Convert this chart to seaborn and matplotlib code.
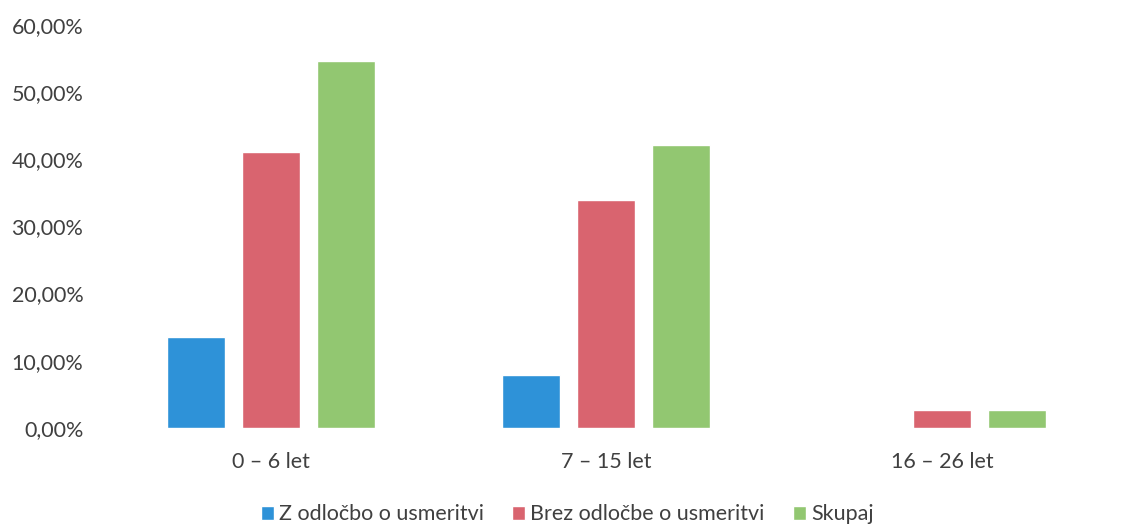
import matplotlib.pyplot as plt
import matplotlib.ticker as mticker
import pandas as pd
import seaborn as sns

# Podatki
kategorije = ['0 – 6 let', '7 – 15 let', '16 – 26 let']
serije = ['Z odločbo o usmeritvi', 'Brez odločbe o usmeritvi', 'Skupaj']
z_odlocbo = [0.136, 0.079, 0.0]
brez_odlocbe = [0.410, 0.339, 0.026]
skupaj = [0.546, 0.421, 0.026]
barve = ['#2E92D8', '#D9646F', '#92C771']

df = pd.DataFrame({
    'Kategorija': kategorije * 3,
    'Serija': [serije[0]] * 3 + [serije[1]] * 3 + [serije[2]] * 3,
    'Vrednost': z_odlocbo + brez_odlocbe + skupaj,
})

sns.set_style('white')
plt.rcParams['font.family'] = ['Lato', 'DejaVu Sans']

fig = plt.figure(figsize=(11.3, 5.27), dpi=100)
ax = fig.add_axes([0.091, 0.188, 0.891, 0.765])

sns.barplot(data=df, x='Kategorija', y='Vrednost', hue='Serija',
            palette=barve, saturation=1, width=0.67, gap=0.227, ax=ax, legend=True)

ax.set_ylim(0, 0.6)
ax.set_xlim(-0.5, 2.5)
ax.yaxis.set_major_locator(mticker.MultipleLocator(0.1))
ax.yaxis.set_major_formatter(
    mticker.FuncFormatter(lambda v, p: f'{v * 100:.2f}%'.replace('.', ',')))
ax.set_xlabel('')
ax.set_ylabel('')
ax.tick_params(axis='y', labelsize=15.5, colors='#404040', length=0, pad=14)
ax.tick_params(axis='x', labelsize=15.5, colors='#404040', length=0, pad=17)
sns.despine(ax=ax, left=True, bottom=True)

ax.legend_.remove()
fig.legend(*ax.get_legend_handles_labels(), loc='center', bbox_to_anchor=(0.502, 0.024),
           ncol=3, frameon=False, fontsize=15.5, handlelength=0.6, handleheight=0.6,
           handletextpad=0.25, columnspacing=1.3, labelcolor='#404040')

fig.savefig('out.png', dpi=100)
